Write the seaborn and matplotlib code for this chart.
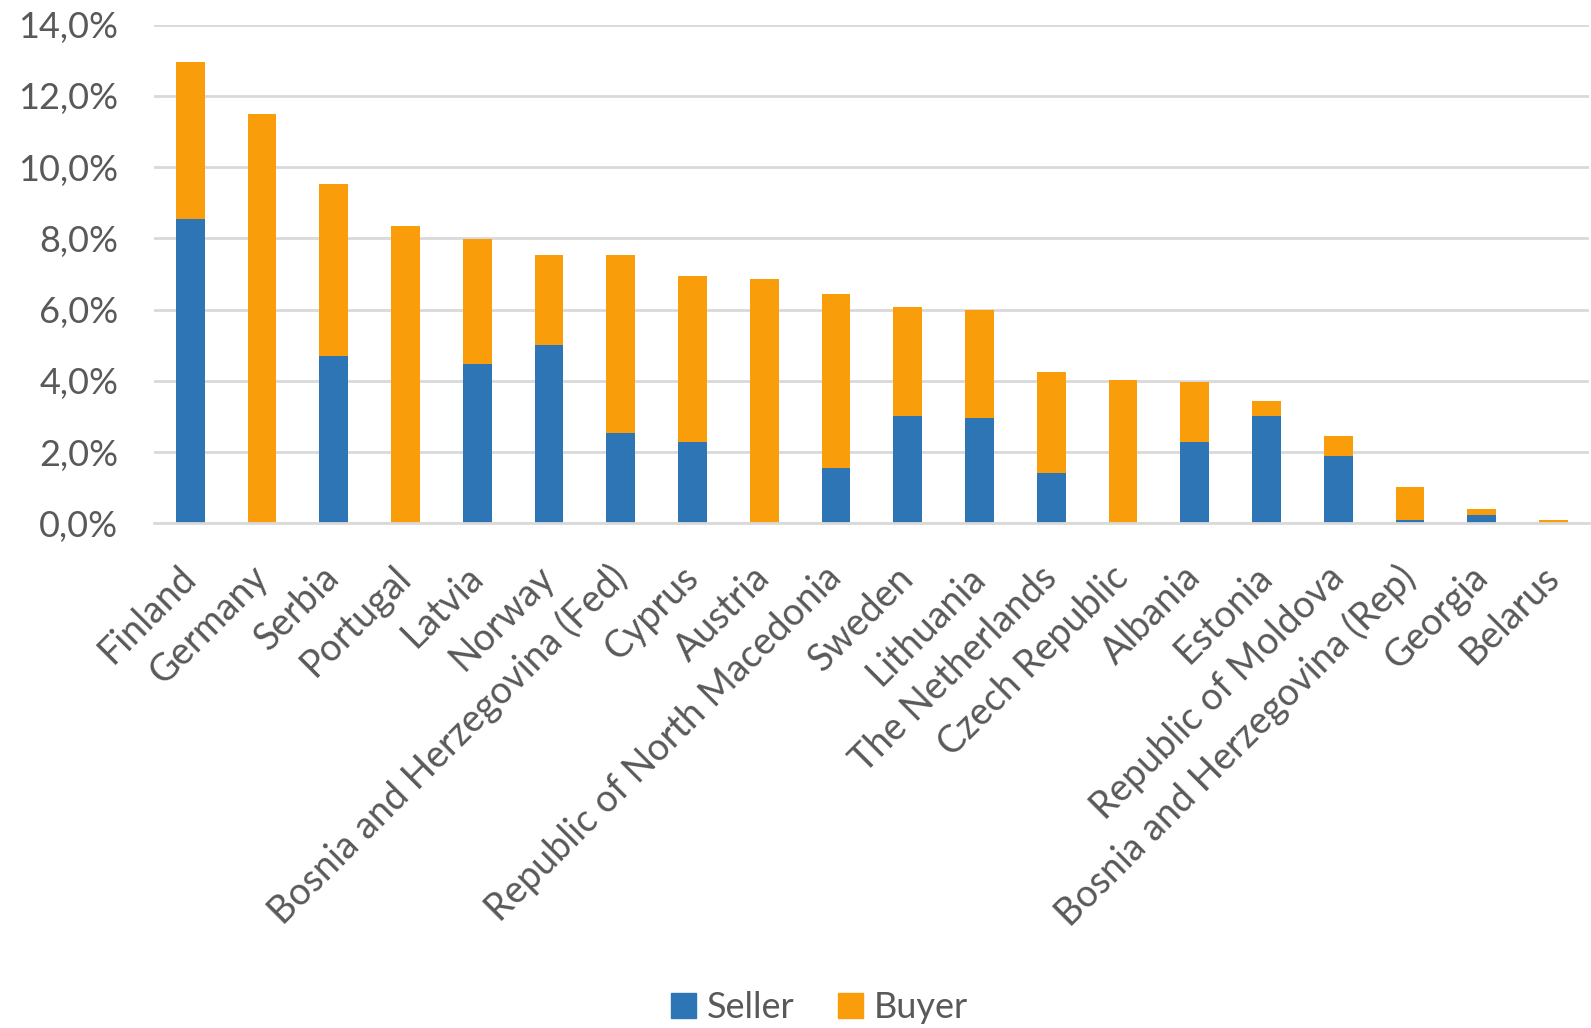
import pandas as pd
import seaborn as sns
import matplotlib.pyplot as plt
from matplotlib.patches import Patch
from matplotlib.ticker import FuncFormatter

# Data (share in %)
countries = ['Finland', 'Germany', 'Serbia', 'Portugal', 'Latvia', 'Norway',
             'Bosnia and Herzegovina (Fed)', 'Cyprus', 'Austria',
             'Republic of North Macedonia', 'Sweden', 'Lithuania',
             'The Netherlands', 'Czech Republic', 'Albania', 'Estonia',
             'Republic of Moldova', 'Bosnia and Herzegovina (Rep)', 'Georgia',
             'Belarus']
seller = [8.53, 0.0, 4.70, 0.0, 4.47, 5.01, 2.53, 2.28, 0.0, 1.54,
          3.02, 2.96, 1.42, 0.0, 2.28, 3.02, 1.90, 0.09, 0.22, 0.0]
buyer = [4.42, 11.50, 4.83, 8.34, 3.50, 2.53, 5.01, 4.66, 6.86, 4.89,
         3.04, 3.04, 2.82, 4.01, 1.68, 0.42, 0.56, 0.93, 0.19, 0.09]

df = pd.DataFrame({'country': countries, 'Seller': seller, 'Buyer': buyer})
df['total'] = df['Seller'] + df['Buyer']

blue = '#2E75B6'
orange = '#F99D0B'
grey_text = '#595959'
grid = '#D9D9D9'

sns.set_style('white')
plt.rcParams['font.family'] = ['Lato', 'DejaVu Sans']

fig = plt.figure(figsize=(15.91, 10.28), dpi=100)
ax = fig.add_axes([0.097, 0.491, 0.902, 0.485])

# Stacked bars: total in orange, seller drawn over it in blue
sns.barplot(data=df, x='country', y='total', color=orange, width=0.4,
            saturation=1, linewidth=0, ax=ax)
sns.barplot(data=df, x='country', y='Seller', color=blue, width=0.4,
            saturation=1, linewidth=0, ax=ax)

ax.set_ylim(0, 14)
ax.set_xlim(-0.5, len(countries) - 0.5)
ax.set_yticks(range(0, 15, 2))
ax.yaxis.set_major_formatter(FuncFormatter(lambda v, p: f'{v:.1f}%'.replace('.', ',')))
ax.grid(axis='y', color=grid, linewidth=2)
ax.set_axisbelow(True)
for s in ['top', 'right', 'left']:
    ax.spines[s].set_visible(False)
ax.spines['bottom'].set_color(grid)
ax.spines['bottom'].set_linewidth(2)
ax.set_xlabel('')
ax.set_ylabel('')
ax.tick_params(axis='both', length=0, colors=grey_text)
ax.tick_params(axis='x', pad=35, labelsize=27)
ax.tick_params(axis='y', pad=26, labelsize=26)
for lbl in ax.get_xticklabels():
    lbl.set_rotation(45)
    lbl.set_ha('right')
    lbl.set_va('center')
    lbl.set_rotation_mode('anchor')

handles = [Patch(color=blue, label='Seller'), Patch(color=orange, label='Buyer')]
fig.legend(handles=handles, loc='center', bbox_to_anchor=(0.515, 0.02), ncol=2,
           frameon=False, fontsize=26, labelcolor=grey_text, handlelength=0.7,
           handleheight=0.7, handletextpad=0.3, columnspacing=1.2)

fig.savefig('out.png', dpi=100)
